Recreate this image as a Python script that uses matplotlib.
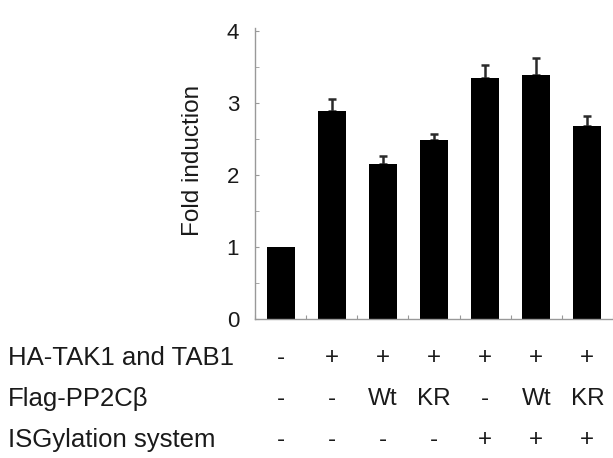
import matplotlib
matplotlib.use("Agg")
import matplotlib.pyplot as plt
from matplotlib.ticker import MultipleLocator
from matplotlib.transforms import blended_transform_factory

plt.rcParams['font.family'] = ['Liberation Sans', 'DejaVu Sans']

# data
fold = [1.0, 2.89, 2.15, 2.49, 3.34, 3.39, 2.68]
err = [0.0, 0.17, 0.11, 0.08, 0.19, 0.24, 0.14]
row_labels = ["HA-TAK1 and TAB1", "Flag-PP2C\u03b2", "ISGylation system"]
tak1 = ["-", "+", "+", "+", "+", "+", "+"]
pp2c = ["-", "-", "Wt", "KR", "-", "Wt", "KR"]
isg = ["-", "-", "-", "-", "+", "+", "+"]

W, H = 613, 458
fig = plt.figure(figsize=(W / 100, H / 100), dpi=100)
ax = fig.add_axes([255 / W, 1 - 319 / H, 1 - 255 / W, (319 - 28) / H])

x = list(range(len(fold)))
ax.bar(x, fold, width=0.545, color="black", zorder=2)
# only bars with an error get a bar + cap
ex = [xi for xi, e in zip(x, err) if e > 0]
ey = [f for f, e in zip(fold, err) if e > 0]
ee = [e for e in err if e > 0]
ax.errorbar(ex, ey, yerr=[[0] * len(ee), ee], fmt="none", ecolor="#2a2a2a",
            elinewidth=1.8, capsize=3, capthick=1.8, zorder=1)

ax.set_xlim(-0.5, 6.5)
ax.set_ylim(0, 4.04)
ax.yaxis.set_major_locator(MultipleLocator(1))
ax.yaxis.set_minor_locator(MultipleLocator(0.5))
ax.xaxis.set_major_locator(MultipleLocator(1, offset=0.5))
ax.set_xticklabels([])

for s in ["top", "right"]:
    ax.spines[s].set_visible(False)
for s in ["left", "bottom"]:
    ax.spines[s].set_color("#999999")
    ax.spines[s].set_linewidth(1.0)

ax.tick_params(axis="y", which="both", direction="in", length=3, color="#999999",
               labelsize=16, labelcolor="#1a1a1a", pad=11.5)
ax.tick_params(axis="x", which="both", direction="in", length=3, color="#999999")

fig.text(193 / W, 1 - 160 / H, "Fold induction", rotation=90, ha="center",
         va="center", fontsize=17.5, color="#1a1a1a")

# condition table under the bars
trans = blended_transform_factory(ax.transData, fig.transFigure)
rows_y = [358, 399, 440]
for label, vals, yp in zip(row_labels, [tak1, pp2c, isg], rows_y):
    fig.text(8 / W, 1 - yp / H, label, ha="left", va="center", fontsize=18.5,
             color="#1a1a1a")
    for xi, v in zip(x, vals):
        ax.text(xi, 1 - yp / H, v, transform=trans, ha="center", va="center",
                fontsize=17.5, color="#1a1a1a")

fig.savefig("out.png", dpi=100)
